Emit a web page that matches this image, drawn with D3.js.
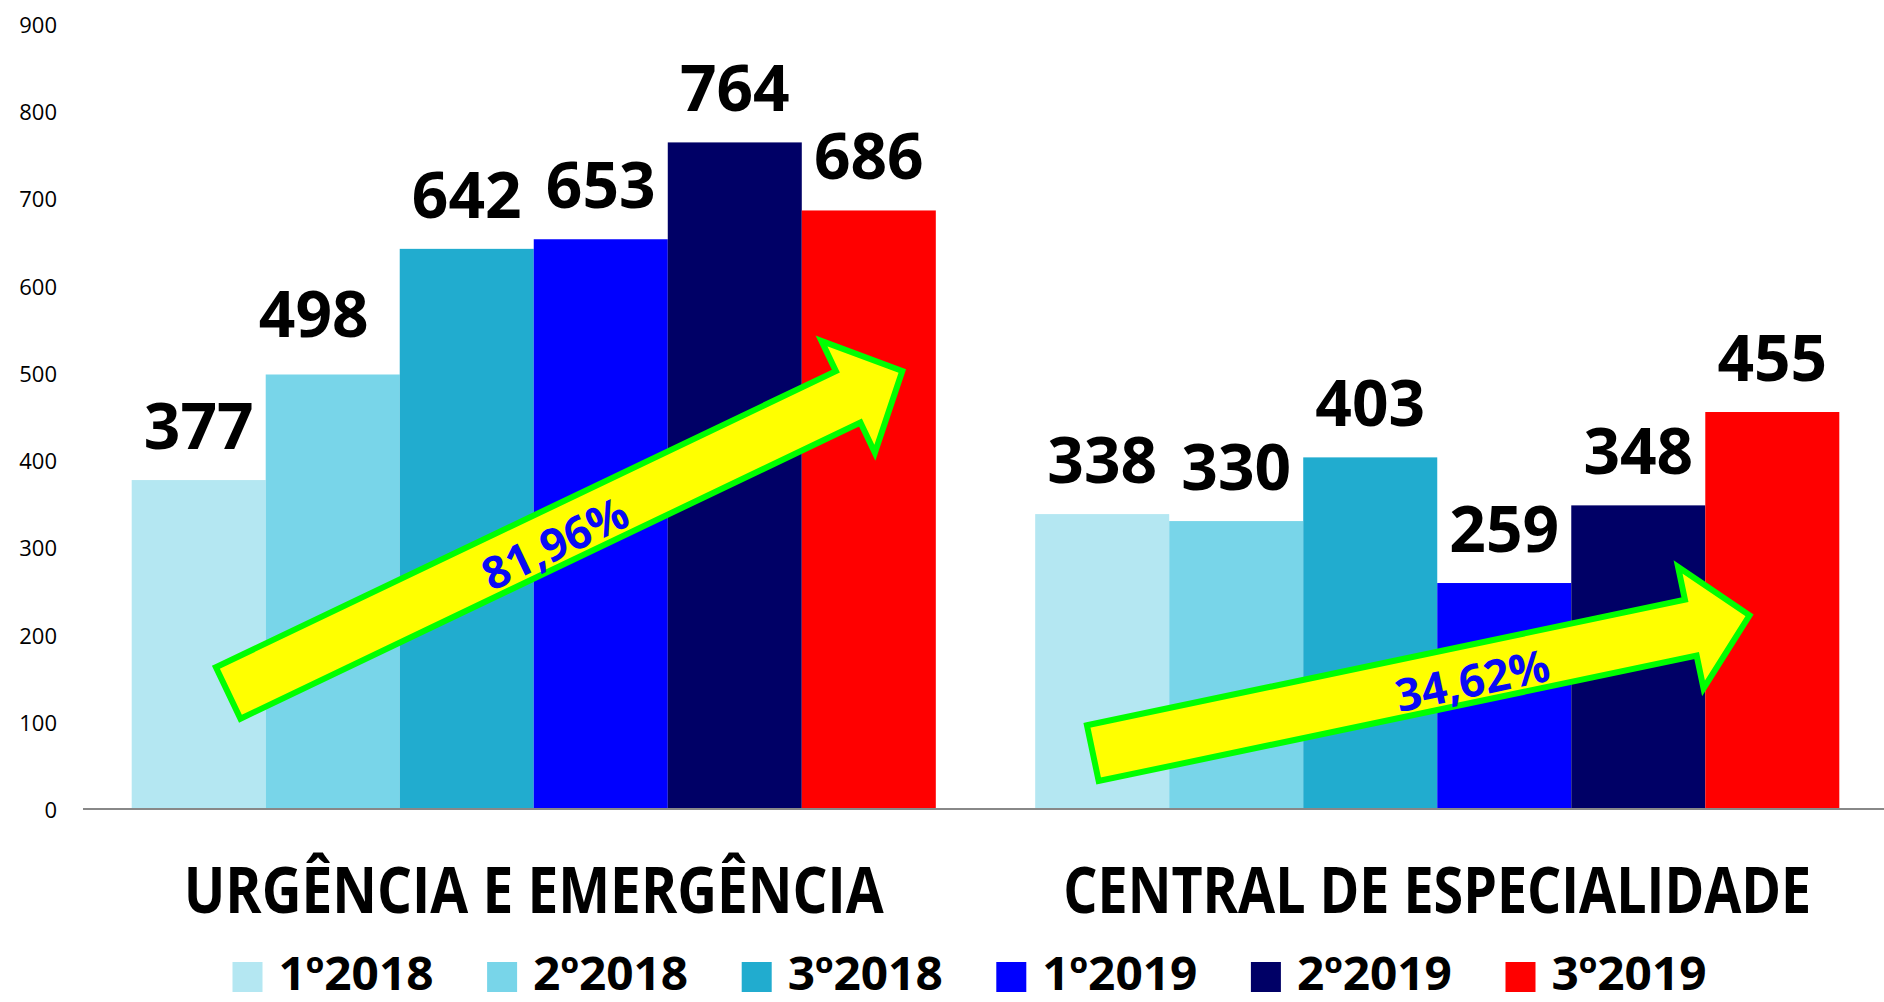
<!DOCTYPE html>
<html>
<head>
<meta charset="utf-8">
<script src="https://cdn.jsdelivr.net/npm/d3@7"></script>
<style>
  html, body { margin: 0; padding: 0; background: #fff; }
  svg { display: block; }
</style>
</head>
<body>
<svg id="chart" width="1884" height="1002"></svg>
<script>
// ---- data ----
const categories = ["URGÊNCIA E EMERGÊNCIA", "CENTRAL DE ESPECIALIDADE"];
const seriesNames = ["1º2018", "2º2018", "3º2018", "1º2019", "2º2019", "3º2019"];
const urgenciaValues = [377, 498, 642, 653, 764, 686];
const centralValues = [338, 330, 403, 259, 348, 455];
const seriesColors = ["#B4E7F2", "#78D5E9", "#21ACCF", "#0000FF", "#000066", "#FF0000"];
const yTickValues = [0, 100, 200, 300, 400, 500, 600, 700, 800, 900];
const growthLabels = ["81,96%", "34,62%"];

const valuesByCategory = [urgenciaValues, centralValues];
const FONT = "'Open Sans', 'Noto Sans', sans-serif";

const svg = d3.select("#chart");

// ---- scales ----
const x0 = d3.scaleBand().domain(categories).range([82, 1889]).paddingInner(0.11).paddingOuter(0.055);
const x1 = d3.scaleBand().domain(seriesNames).range([0, x0.bandwidth()]).padding(0);
const y = d3.scaleLinear().domain([0, 900]).range([809, 23.75]);

// ---- y axis tick labels ----
svg.append("g").selectAll("text").data(yTickValues).join("text")
  .attr("x", 57).attr("y", d => y(d))
  .attr("text-anchor", "end").attr("dominant-baseline", "central")
  .attr("font-family", FONT).attr("font-size", 22).attr("fill", "#000")
  .text(d => d);

// ---- bars ----
const groups = svg.append("g").selectAll("g").data(categories).join("g")
  .attr("transform", d => `translate(${x0(d)},0)`);

groups.selectAll("rect").data((c, i) => valuesByCategory[i].map((v, j) => ({ s: seriesNames[j], v, j })))
  .join("rect")
  .attr("x", d => x1(d.s)).attr("width", x1.bandwidth())
  .attr("y", d => y(d.v)).attr("height", d => y(0) - y(d.v))
  .attr("fill", d => seriesColors[d.j]);

// value labels (the 2º2018 label of the first group was nudged in the original)
const nudge = (gi, j) => (gi === 0 && j === 1) ? [-19, -6] : [0, 0];
groups.selectAll("text.val").data((c, i) => valuesByCategory[i].map((v, j) => ({ s: seriesNames[j], v, j, gi: i })))
  .join("text").attr("class", "val")
  .attr("x", d => x1(d.s) + x1.bandwidth() / 2 + nudge(d.gi, d.j)[0])
  .attr("y", d => y(d.v) - 31 + nudge(d.gi, d.j)[1])
  .attr("text-anchor", "middle")
  .attr("font-family", FONT).attr("font-weight", 700).attr("font-size", 64).attr("fill", "#000")
  .text(d => d.v);

// ---- axis line ----
svg.append("line").attr("x1", 83).attr("x2", 1884).attr("y1", y(0)).attr("y2", y(0))
  .attr("stroke", "#888").attr("stroke-width", 2);

// ---- category labels (horizontally condensed to the reference width) ----
const catWidths = [700, 748];
const catG = svg.append("g").selectAll("g").data(categories).join("g");
catG.each(function (d, i) {
  const g = d3.select(this);
  const t = g.append("text")
    .attr("x", 0).attr("y", 0)
    .attr("text-anchor", "middle")
    .attr("font-family", FONT).attr("font-weight", 700).attr("font-size", 64).attr("fill", "#000")
    .text(d);
  const natural = t.node().getComputedTextLength();
  const sx = catWidths[i] / natural;
  g.attr("transform", `translate(${x0(d) + x0.bandwidth() / 2},913) scale(${sx},1)`);
});

// ---- growth arrows (annotation) ----
const arrows = [
  { g: 0, from: [0.72, 133], to: [5.75, 502], label: growthLabels[0], at: 0.481, off: 22 },
  { g: 1, from: [0.43, 64], to: [5.33, 222], label: growthLabels[1], at: 0.576, off: 23 }
];
const arrowLayer = svg.append("g");
arrows.forEach(a => {
  const bx = x0(categories[a.g]);
  const tx = bx + a.from[0] * x1.step(), ty = y(a.from[1]);
  const hx = bx + a.to[0] * x1.step(), hy = y(a.to[1]);
  const L = Math.hypot(hx - tx, hy - ty);
  const ang = Math.atan2(hy - ty, hx - tx) * 180 / Math.PI;
  const hw = 28.5, hl = 60, hh = 62;
  const pts = [[0, -hw], [L - hl, -hw], [L - hl, -hh], [L, 0], [L - hl, hh], [L - hl, hw], [0, hw]];
  const g = arrowLayer.append("g").attr("transform", `translate(${tx},${ty}) rotate(${ang})`);
  g.append("polygon").attr("points", pts.map(p => p.join(",")).join(" "))
    .attr("fill", "#FFFF00").attr("stroke", "#00FF00").attr("stroke-width", 6)
    .attr("stroke-linejoin", "miter");
  g.append("text").attr("x", L * a.at).attr("y", a.off)
    .attr("text-anchor", "middle")
    .attr("font-family", FONT).attr("font-weight", 700).attr("font-size", 45).attr("fill", "#0a0af5")
    .text(a.label);
});

// ---- legend ----
const legend = svg.append("g").selectAll("g").data(seriesNames).join("g")
  .attr("transform", (d, i) => `translate(${232.5 + i * 254.6},0)`);
legend.append("rect").attr("x", 0).attr("y", 962).attr("width", 30).attr("height", 30)
  .attr("fill", (d, i) => seriesColors[i]);
legend.append("text").attr("x", 46).attr("y", 990)
  .attr("font-family", FONT).attr("font-weight", 700).attr("font-size", 46).attr("fill", "#000")
  .attr("textLength", 155).attr("lengthAdjust", "spacingAndGlyphs")
  .text(d => d);
</script>
</body>
</html>
